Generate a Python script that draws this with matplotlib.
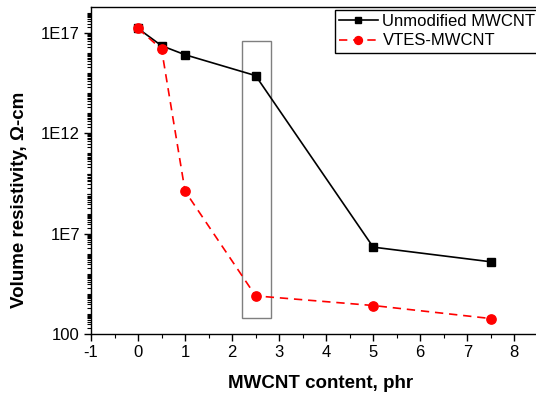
import numpy as np
import matplotlib
matplotlib.use("Agg")
import matplotlib.pyplot as plt
from matplotlib.ticker import FixedLocator, NullFormatter
from matplotlib.patches import Rectangle

plt.rcParams['font.family'] = ['Liberation Sans', 'DejaVu Sans']
plt.rcParams['axes.unicode_minus'] = False

x_unmod = [0, 0.5, 1, 2.5, 5, 7.5]
log_unmod = [17.23, 16.37, 15.92, 14.88, 6.33, 5.6]
x_vtes = [0, 0.5, 1, 2.5, 5, 7.5]
log_vtes = [17.23, 16.2, 9.12, 3.9, 3.42, 2.77]
labels = ["Unmodified MWCNT", "VTES-MWCNT"]
ytick_vals = [1e2, 1e7, 1e12, 1e17]
ytick_labels = ["100", "1E7", "1E12", "1E17"]
xticks = list(range(-1, 9))
box_x = (2.21, 2.82)
box_logy = (2.78, 16.6)

W, H = 536, 394
fig = plt.figure(figsize=(W/100, H/100), dpi=100)
ax = fig.add_axes([91/W, (H-334)/H, 451.5/W, 327/H])

y_unmod = [10**v for v in log_unmod]
y_vtes = [10**v for v in log_vtes]

ax.plot(x_unmod, y_unmod, color='black', lw=1.2, marker='s', ms=5.8,
        label=labels[0], zorder=3)
ax.plot(x_vtes, y_vtes, color='red', lw=1.2, ls=(0, (5, 3.5)), marker='o', ms=6.7,
        mec='red', mfc='red', label=labels[1], zorder=4)

ax.add_patch(Rectangle((box_x[0], 10**box_logy[0]), box_x[1]-box_x[0],
                       10**box_logy[1]-10**box_logy[0],
                       fill=False, ec='#7f7f7f', lw=1.0, zorder=2))

ax.set_yscale('log')
ax.set_xlim(-1, 8.6)
ax.set_ylim(1e2, 10**18.3)

ax.yaxis.set_major_locator(FixedLocator(ytick_vals))
ax.set_yticklabels(ytick_labels)
minor = []
for k in range(2, 19):
    for m in range(1, 10):
        v = m * 10**k
        if v not in ytick_vals and v <= 10**18.3:
            minor.append(v)
ax.yaxis.set_minor_locator(FixedLocator(minor))
ax.yaxis.set_minor_formatter(NullFormatter())

ax.set_xticks(xticks)
ax.set_xticks(np.arange(-0.5, 8.6, 1.0), minor=True)

ax.tick_params(axis='both', which='major', direction='out', length=5, width=1,
               labelsize=12, pad=3)
ax.tick_params(axis='both', which='minor', direction='out', length=3, width=0.8)
for s in ax.spines.values():
    s.set_linewidth(1.0)

fig.text(321/W, 1-383/H, "MWCNT content, phr", fontsize=13.5, fontweight='bold',
         ha='center', va='center')
fig.text(20/W, 1-200/H, "Volume resistivity, \u03a9-cm", fontsize=13.5,
         fontweight='bold', rotation=90, ha='center', va='center')

leg = ax.legend(loc='upper left', bbox_to_anchor=(335/W, 1-10/H),
                bbox_transform=fig.transFigure, fontsize=12, frameon=True,
                fancybox=False, edgecolor='black', framealpha=1,
                borderpad=0.25, labelspacing=0.25, handlelength=2.3,
                handletextpad=0.3, borderaxespad=0, markerscale=0.85)
leg.get_frame().set_linewidth(1.0)

fig.savefig("out.png", dpi=100)
